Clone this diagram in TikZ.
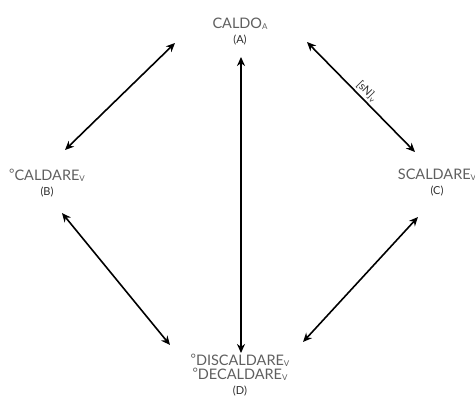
\documentclass[tikz,border=0pt]{standalone}
\usepackage{fontspec}
\setmainfont{Lato}
\usetikzlibrary{arrows.meta}
\usetikzlibrary{calc}
\definecolor{labelgray}{RGB}{95,95,95}
\definecolor{lettergray}{RGB}{45,45,45}
\newcommand{\lowidx}[1] % small lowered index letter
{{\fontsize{8}{8}\selectfont\raisebox{-1pt}{#1}}}
\newcommand{\degmark}{{\raisebox{1.5pt}{\fontsize{13}{13}\selectfont\textdegree}}}

\begin{document}
\begin{tikzpicture}[x=1pt, y=-1pt,
	word/.style={align=center, text=labelgray, inner sep=0pt,
		font=\fontsize{14.5}{15}\selectfont},
	dbl/.style={{Stealth[length=9pt,width=8pt]}-{Stealth[length=9pt,width=8pt]},
		line width=1.6pt}]
	\useasboundingbox (0,0) rectangle (475,399);
	% corner words
	\node[word] (A) at (240,32) {CALDO\lowidx{A}\\[0pt]
		{\fontsize{11}{11}\selectfont\color{lettergray}(A)}};
	\node[word] (B) at (47,183) {\degmark CALDARE\lowidx{V}\\[0pt]
		{\fontsize{11}{11}\selectfont\color{lettergray}(B)}};
	\node[word] (C) at (437,183) {SCALDARE\lowidx{V}\\[0pt]
		{\fontsize{11}{11}\selectfont\color{lettergray}(C)}};
	\node[word] (D) at (240,375) {\degmark DISCALDARE\lowidx{V}\\[-1pt]
		\degmark DECALDARE\lowidx{V}\\[0pt]
		{\fontsize{11}{11}\selectfont\color{lettergray}(D)}};
	% derivation arrows
	\draw[dbl] ($(A)+(-65,11)$) -- ($(B)+(18,-33)$);
	\draw[dbl] ($(A)+(1,25)$) -- ($(D)+(1,-22)$);
	\draw[dbl] ($(A)+(67,10)$) -- node[sloped, above, inner sep=2.5pt,
		text=lettergray, font=\fontsize{11}{11}\selectfont]
		(sN) {[sN]\textsubscript{v}} ($(C)+(-22,-31)$);
	\draw[dbl] ($(B)+(15,30)$) -- ($(D)+(-70,-30)$);
	\draw[dbl] ($(D)+(63,-33)$) -- ($(C)+(-19,34)$);
\end{tikzpicture}
\end{document}
